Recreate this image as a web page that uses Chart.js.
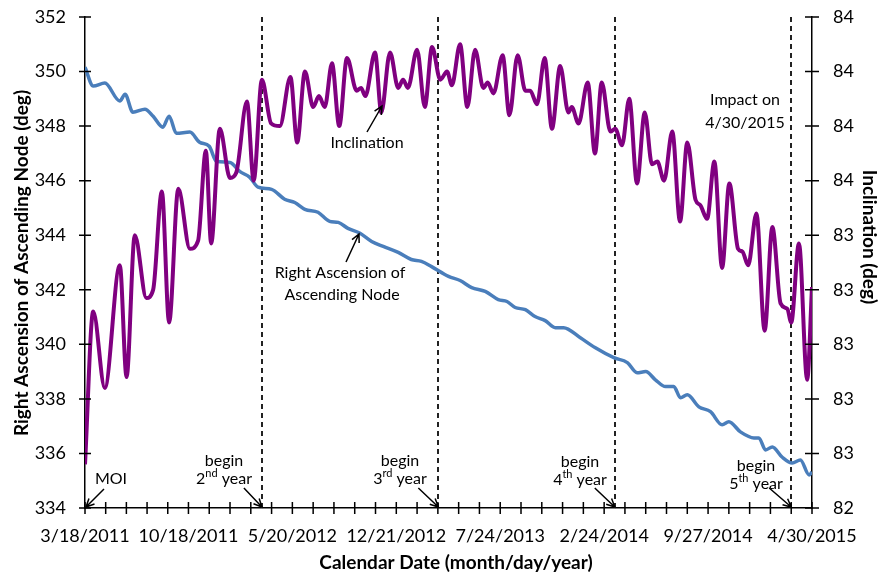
<!DOCTYPE html>
<html>
<head>
<meta charset="utf-8">
<script src="https://cdn.jsdelivr.net/npm/chart.js@4.4.0/dist/chart.umd.min.js"></script>
<style>
  html, body { margin: 0; padding: 0; background: #fff; }
</style>
</head>
<body>
<canvas id="chart" width="881" height="578"></canvas>
<script>
"use strict";

// x values are days after MOI (3/18/2011)
var tickDates = ["3/18/2011", "10/18/2011", "5/20/2012", "12/21/2012",
  "7/24/2013", "2/24/2014", "9/27/2014", "4/30/2015"];
var yearStarts = ["3/18/2012", "3/18/2013", "3/18/2014", "3/18/2015"];
var yearNames = [["2", "nd"], ["3", "rd"], ["4", "th"], ["5", "th"]];

var raTicks = [334, 336, 338, 340, 342, 344, 346, 348, 350, 352];
var incTicks = [82.4, 82.6, 82.8, 83.0, 83.2, 83.4, 83.6, 83.8, 84.0, 84.2];

var raanDays = [0, 17, 41, 72, 83, 99, 124, 141, 161, 174, 189, 217, 237, 257, 272,
  300, 320, 341, 358, 386, 413, 434, 455, 482, 506, 524, 544, 569, 593, 617, 648,
  675, 696, 717, 752, 776, 800, 828, 855, 873, 890, 911, 931, 952, 973, 990, 1024,
  1055, 1094, 1122, 1142, 1160, 1180, 1201, 1218, 1232, 1246, 1270, 1294, 1318,
  1332, 1356, 1384, 1394, 1408, 1422, 1442, 1463, 1480, 1498, 1504];
var raanValues = [350.16, 349.47, 349.58, 348.92, 349.17, 348.51, 348.62, 348.36,
  347.96, 348.36, 347.74, 347.78, 347.41, 347.26, 346.71, 346.67, 346.34, 346.12,
  345.76, 345.68, 345.32, 345.20, 344.95, 344.84, 344.51, 344.47, 344.25, 344.07,
  343.77, 343.59, 343.37, 343.11, 343.04, 342.85, 342.49, 342.34, 342.08, 341.94,
  341.64, 341.57, 341.35, 341.27, 341.02, 340.87, 340.61, 340.61, 340.25, 339.88,
  339.51, 339.33, 338.96, 339.00, 338.70, 338.45, 338.45, 338.04, 338.15, 337.71,
  337.53, 337.05, 337.16, 336.79, 336.57, 336.57, 336.13, 336.24, 335.87, 335.65,
  335.76, 335.21, 335.32];

var incDays = [0, 17, 41, 72, 86, 103, 127, 141, 159, 174, 193, 217, 234, 250, 261,
  279, 300, 313, 335, 349, 366, 385, 403, 425, 439, 455, 472, 484, 496, 511, 526,
  542, 562, 571, 580, 600, 613, 631, 648, 658, 668, 687, 703, 718, 735, 749, 759,
  776, 791, 807, 824, 833, 845, 864, 878, 895, 911, 921, 935, 951, 966, 983, 1000,
  1007, 1021, 1040, 1055, 1069, 1087, 1097, 1111, 1126, 1142, 1158, 1173, 1184,
  1198, 1215, 1231, 1246, 1263, 1273, 1287, 1302, 1318, 1333, 1351, 1360, 1372,
  1389, 1406, 1422, 1439, 1453, 1461, 1477, 1494, 1504];
var incValues = [82.56, 83.12, 82.84, 83.29, 82.88, 83.40, 83.17, 83.20, 83.56,
  83.08, 83.57, 83.35, 83.38, 83.71, 83.37, 83.79, 83.61, 83.63, 83.89, 83.60,
  83.97, 83.81, 83.80, 83.98, 83.74, 84.00, 83.87, 83.91, 83.87, 84.03, 83.80,
  84.05, 83.93, 83.94, 83.91, 84.07, 83.85, 84.07, 83.94, 83.97, 83.94, 84.08,
  83.87, 84.09, 83.97, 84.00, 83.95, 84.10, 83.87, 84.08, 83.94, 83.96, 83.92,
  84.06, 83.84, 84.06, 83.93, 83.93, 83.88, 84.05, 83.79, 84.02, 83.85, 83.87,
  83.81, 83.96, 83.70, 83.96, 83.78, 83.79, 83.73, 83.90, 83.59, 83.85, 83.66,
  83.67, 83.60, 83.78, 83.45, 83.74, 83.53, 83.51, 83.46, 83.67, 83.28, 83.59,
  83.35, 83.34, 83.29, 83.48, 83.05, 83.43, 83.15, 83.13, 83.08, 83.37, 82.87,
  83.21];

var FONT = "Lato, 'Open Sans', sans-serif";

function dayOf(str) {
  var p = str.split("/");
  var t = Date.UTC(+p[2], +p[0] - 1, +p[1]);
  return Math.round((t - Date.UTC(2011, 2, 18)) / 86400000);
}

var labelDays = tickDates.map(dayOf);
var yearDays = yearStarts.map(dayOf);

// 5 tick intervals between labelled dates
var xTicks = [];
for (var i = 0; i < labelDays.length; i++) {
  xTicks.push(labelDays[i]);
  if (i < labelDays.length - 1) {
    for (var k = 1; k < 5; k++)
      xTicks.push(labelDays[i] + (labelDays[i + 1] - labelDays[i]) * k / 5);
  }
}

function zip(xs, ys) {
  return xs.map((x, i) => ({ x: x, y: ys[i] }));
}

// line with an open "V" head at (x2, y2)
function drawArrow(ctx, x1, y1, x2, y2) {
  var a = Math.atan2(y2 - y1, x2 - x1);
  var hl = 9, spread = 0.45;
  ctx.beginPath();
  ctx.moveTo(x1, y1);
  ctx.lineTo(x2, y2);
  ctx.moveTo(x2 - hl * Math.cos(a - spread), y2 - hl * Math.sin(a - spread));
  ctx.lineTo(x2, y2);
  ctx.lineTo(x2 - hl * Math.cos(a + spread), y2 - hl * Math.sin(a + spread));
  ctx.stroke();
}

// "2nd year" with raised suffix, centred on cx
function drawOrdinal(ctx, cx, cy, num, suf) {
  var big = "16px " + FONT, small = "11px " + FONT;
  ctx.font = big;
  var w1 = ctx.measureText(num).width;
  var w3 = ctx.measureText(" year").width;
  ctx.font = small;
  var w2 = ctx.measureText(suf).width;
  var x = cx - (w1 + w2 + w3) / 2;
  ctx.textAlign = "left";
  ctx.textBaseline = "middle";
  ctx.font = big;
  ctx.fillText(num, x, cy);
  ctx.font = small;
  ctx.fillText(suf, x + w1, cy - 6);
  ctx.font = big;
  ctx.fillText(" year", x + w1 + w2, cy);
}

// scales should not reserve room for label overhang
function noPad(s) {
  s.paddingTop = 0;
  s.paddingBottom = 0;
  s.paddingLeft = 0;
  s.paddingRight = 0;
}

var decorPlugin = {
  id: "decor",
  beforeDraw(chart) {
    var ctx = chart.ctx;
    ctx.save();
    ctx.fillStyle = "#fff";
    ctx.fillRect(0, 0, chart.width, chart.height);
    ctx.restore();
  },
  beforeDatasetsDraw(chart) {
    var ctx = chart.ctx, area = chart.chartArea, xs = chart.scales.x;
    ctx.save();
    ctx.strokeStyle = "#222";
    ctx.lineWidth = 2;
    ctx.setLineDash([5, 4]);
    yearDays.forEach((d) => {
      var px = Math.round(xs.getPixelForValue(d));
      ctx.beginPath();
      ctx.moveTo(px, area.top);
      ctx.lineTo(px, area.bottom);
      ctx.stroke();
    });
    ctx.restore();
  },
  afterDraw(chart) {
    var ctx = chart.ctx, area = chart.chartArea;
    var xs = chart.scales.x, yl = chart.scales.y, yr = chart.scales.y2;
    ctx.save();
    // crossing tick marks
    ctx.strokeStyle = "#000";
    ctx.lineWidth = 1.5;
    ctx.beginPath();
    xTicks.forEach((v) => {
      var px = xs.getPixelForValue(v);
      ctx.moveTo(px, area.bottom - 6);
      ctx.lineTo(px, area.bottom + 6);
    });
    raTicks.forEach((v) => {
      var py = yl.getPixelForValue(v);
      ctx.moveTo(area.left - 6, py);
      ctx.lineTo(area.left + 6, py);
    });
    incTicks.forEach((v) => {
      var py = yr.getPixelForValue(v);
      ctx.moveTo(area.right - 7, py);
      ctx.lineTo(area.right + 7, py);
    });
    ctx.stroke();

    // axis titles
    ctx.fillStyle = "#000";
    ctx.font = "bold 19px " + FONT;
    ctx.textAlign = "center";
    ctx.textBaseline = "middle";
    ctx.fillText("Calendar Date (month/day/year)", 456, 563);
    ctx.save();
    ctx.translate(22, 263);
    ctx.rotate(-Math.PI / 2);
    ctx.fillText("Right Ascension of Ascending Node (deg)", 0, 0);
    ctx.restore();
    ctx.save();
    ctx.translate(869, 237);
    ctx.rotate(Math.PI / 2);
    ctx.fillText("Inclination (deg)", 0, 0);
    ctx.restore();

    // annotations
    ctx.font = "16px " + FONT;
    ctx.lineWidth = 1.5;
    ctx.fillText("MOI", 111, 479);
    drawArrow(ctx, 104, 489, xs.getPixelForValue(0) + 1, yl.getPixelForValue(334) - 1);

    var textX = [224, 400, 580, 756];
    var textY = [461, 461, 462, 466];
    var tailDx = [18, 20, 20, 22];
    yearDays.forEach((d, i) => {
      ctx.font = "16px " + FONT;
      ctx.textAlign = "center";
      ctx.fillText("begin", textX[i], textY[i]);
      drawOrdinal(ctx, textX[i], textY[i] + 18, yearNames[i][0], yearNames[i][1]);
      var tx = xs.getPixelForValue(d);
      var ty = yl.getPixelForValue(334) - 1;
      drawArrow(ctx, tx - tailDx[i], ty - 19, tx, ty);
    });

    ctx.font = "16px " + FONT;
    ctx.textAlign = "center";
    ctx.fillText("Impact on", 745, 100);
    ctx.fillText("4/30/2015", 745, 123);

    ctx.fillText("Inclination", 367, 143);
    drawArrow(ctx, 367, 132, 382, 106);

    ctx.fillText("Right Ascension of", 340, 273);
    ctx.fillText("Ascending Node", 342, 295);
    drawArrow(ctx, 346, 262, 359, 234);
    ctx.restore();
  },
};

var ctx = document.getElementById("chart").getContext("2d");

var gChart = new Chart(ctx, {
  type: "line",
  data: {
    datasets: [
      {
        label: "Inclination",
        data: zip(incDays, incValues),
        yAxisID: "y2",
        borderColor: "#800080",
        borderWidth: 4,
        cubicInterpolationMode: "monotone",
        pointRadius: 0,
      },
      {
        label: "Right Ascension of Ascending Node",
        data: zip(raanDays, raanValues),
        yAxisID: "y",
        borderColor: "#4a7ebb",
        borderWidth: 3.5,
        cubicInterpolationMode: "monotone",
        pointRadius: 0,
      },
    ],
  },
  options: {
    responsive: false,
    animation: false,
    devicePixelRatio: 1,
    layout: { padding: { top: 17, left: 0, right: 0, bottom: 0 } },
    plugins: { legend: { display: false }, tooltip: { enabled: false } },
    scales: {
      x: {
        type: "linear",
        min: 0,
        max: labelDays[labelDays.length - 1],
        afterBuildTicks: (s) => {
          s.ticks = xTicks.map((v) => ({ value: v }));
        },
        afterFit: (s) => {
          s.height = 70;
          noPad(s);
        },
        grid: { display: false, drawTicks: false },
        border: { display: true, color: "#000", width: 1.5 },
        ticks: {
          autoSkip: false,
          maxRotation: 0,
          padding: 17,
          color: "#000",
          font: { family: FONT, size: 18 },
          callback: (v) => {
            var i = labelDays.indexOf(v);
            return i >= 0 ? tickDates[i] : "";
          },
        },
      },
      y: {
        position: "left",
        min: 334,
        max: 352,
        afterBuildTicks: (s) => {
          s.ticks = raTicks.map((v) => ({ value: v }));
        },
        afterFit: (s) => {
          s.width = 85;
          noPad(s);
        },
        grid: { display: false, drawTicks: false },
        border: { display: true, color: "#000", width: 1.5 },
        ticks: {
          padding: 19,
          color: "#000",
          font: { family: FONT, size: 18 },
        },
      },
      y2: {
        position: "right",
        min: 82.4,
        max: 84.2,
        afterBuildTicks: (s) => {
          s.ticks = incTicks.map((v) => ({ value: v }));
        },
        afterFit: (s) => {
          s.width = 69;
          noPad(s);
        },
        grid: { display: false, drawTicks: false },
        border: { display: true, color: "#000", width: 1.5 },
        ticks: {
          padding: 21,
          color: "#000",
          font: { family: FONT, size: 18 },
          callback: (v) => Math.round(v),
        },
      },
    },
  },
  plugins: [decorPlugin],
});
</script>
</body>
</html>
